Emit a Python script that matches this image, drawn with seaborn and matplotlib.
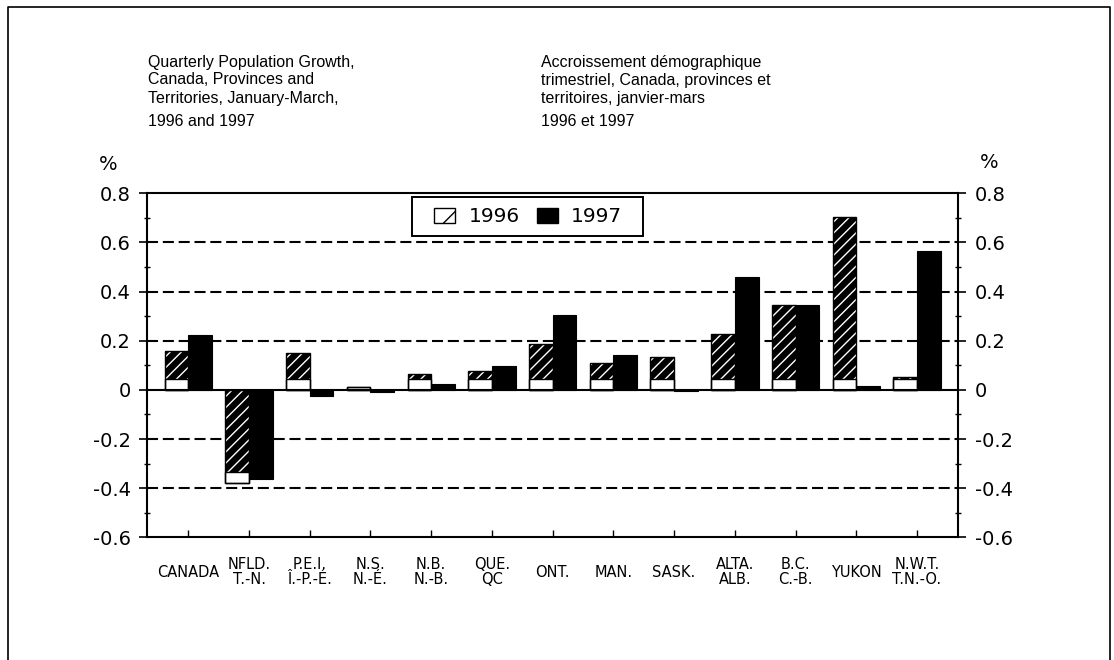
import numpy as np
import pandas as pd
import matplotlib.pyplot as plt
import seaborn as sns
from matplotlib.patches import Patch, Rectangle
from matplotlib.lines import Line2D

# data (quarterly growth, %)
regions = ["CANADA", "NFLD.\nT.-N.", "P.E.I.\nÎ.-P.-É.", "N.S.\nN.-É.", "N.B.\nN.-B.",
           "QUE.\nQC", "ONT.", "MAN.", "SASK.", "ALTA.\nALB.", "B.C.\nC.-B.",
           "YUKON", "N.W.T.\nT.N.-O."]
growth_1996 = [0.159, -0.377, 0.151, 0.010, 0.065, 0.078, 0.187, 0.110, 0.133, 0.228, 0.346, 0.703, 0.052]
growth_1997 = [0.224, -0.364, -0.025, -0.010, 0.024, 0.098, 0.303, 0.141, -0.006, 0.459, 0.346, 0.016, 0.567]
years = ["1996", "1997"]

y_ticks = [-0.6, -0.4, -0.2, 0, 0.2, 0.4, 0.6, 0.8]
y_tick_labels = ["-0.6", "-0.4", "-0.2", "0", "0.2", "0.4", "0.6", "0.8"]

title_en = ["Quarterly Population Growth,", "Canada, Provinces and",
            "Territories, January-March,", "1996 and 1997"]
title_fr = ["Accroissement démographique", "trimestriel, Canada, provinces et",
            "territoires, janvier-mars", "1996 et 1997"]

band = 0.043  # white strip drawn in the 1996 bars

sns.set_style("ticks")
plt.rcParams["font.family"] = ["DejaVu Sans"]
plt.rcParams["hatch.linewidth"] = 1.0
plt.rcParams["text.color"] = "black"
plt.rcParams["xtick.color"] = "black"
plt.rcParams["ytick.color"] = "black"
plt.rcParams["xtick.labelcolor"] = "black"
plt.rcParams["ytick.labelcolor"] = "black"

df = pd.DataFrame({
    "region": regions * 2,
    "year": [years[0]] * len(regions) + [years[1]] * len(regions),
    "growth": growth_1996 + growth_1997,
})

W, H = 1114, 660
fig = plt.figure(figsize=(W / 100, H / 100), dpi=100)
ax = fig.add_axes([147.3 / W, 1 - 537.3 / H, 810.7 / W, 344 / H])

# dashed grid lines
for y in y_ticks[1:-1]:
    if y != 0:
        ax.axhline(y, color="black", lw=1.5, ls=(0, (5.3, 2.3)), zorder=0)

sns.barplot(data=df, x="region", y="growth", hue="year", order=regions, hue_order=years,
            palette=["black", "black"], saturation=1, width=0.78, gap=0,
            errorbar=None, legend=False, ax=ax, zorder=2)

for bar, v in zip(ax.containers[0], growth_1996):
    bar.set_hatch("///")
    bar.set_edgecolor("white")
    bar.set_linewidth(0)
    x0, w = bar.get_x(), bar.get_width()
    h = min(abs(v), band)
    bottom = 0 if v > 0 else v
    ax.bar(x0, h, width=w, bottom=bottom, align="edge", color="white",
           edgecolor="black", lw=1, zorder=3)
    ax.bar(x0, v, width=w, align="edge", fill=False, edgecolor="black", lw=1, zorder=3)

for bar in ax.containers[1]:
    bar.set_edgecolor("black")
    bar.set_linewidth(0.8)

ax.axhline(0, color="black", lw=1.5, zorder=4)

ax.set_xlim(-0.675, len(regions) - 1 + 0.675)
ax.set_ylim(y_ticks[0], y_ticks[-1])
ax.set_yticks(y_ticks, labels=y_tick_labels)
ax.set_yticks(np.arange(-0.5, 0.8, 0.2), minor=True)
ax.set_xticks(range(len(regions)), labels=regions, va="center", linespacing=0.95)
ax.set_xlabel("")
ax.set_ylabel("")

ax.tick_params(axis="y", which="major", direction="out", length=6, width=1.2,
               labelsize=14, left=True, right=True, labelleft=True, labelright=True,
               pad=6)
ax.tick_params(axis="y", which="minor", direction="inout", length=5, width=1,
               left=True, right=True)
ax.tick_params(axis="x", direction="in", length=5, width=1, labelsize=10.5,
               pad=25, bottom=True, top=False)

for side in ["left", "right", "top", "bottom"]:
    ax.spines[side].set_visible(True)
    ax.spines[side].set_color("black")
    ax.spines[side].set_linewidth(1.5)

# titles
line_y = [62, 80, 98, 121]
for t_en, t_fr, y in zip(title_en, title_fr, line_y):
    fig.text(148 / W, 1 - y / H, t_en, va="center", ha="left", fontsize=11.5,
             family=["Liberation Sans", "DejaVu Sans"])
    fig.text(541 / W, 1 - y / H, t_fr, va="center", ha="left", fontsize=11.5,
             family=["Liberation Sans", "DejaVu Sans"])

fig.text(108 / W, 1 - 164 / H, "%", ha="center", va="center", fontsize=14)
fig.text(989 / W, 1 - 163 / H, "%", ha="center", va="center", fontsize=14)

handles = [Patch(facecolor="white", edgecolor="black", hatch="/", lw=1),
           Patch(facecolor="black", edgecolor="black")]
leg = fig.legend(handles, years, loc="center", bbox_to_anchor=(528 / W, 1 - 216.7 / H),
                 ncol=2, frameon=False, fontsize=14.5,
                 handlelength=1.05, handleheight=0.75, handletextpad=0.65,
                 columnspacing=0.85, borderpad=0.4)
# legend box
fig.add_artist(Rectangle((411.7 / W, 1 - 236 / H), 231.6 / W, 38.7 / H,
                         transform=fig.transFigure, fill=False, edgecolor="black", lw=1.4))

# outer frame
fig.add_artist(Line2D([8 / W, 8 / W, 1110 / W, 1110 / W], [0, 1 - 7 / H, 1 - 7 / H, 0],
                      transform=fig.transFigure, color="black", lw=1.2))

fig.savefig("out.png", dpi=100)
